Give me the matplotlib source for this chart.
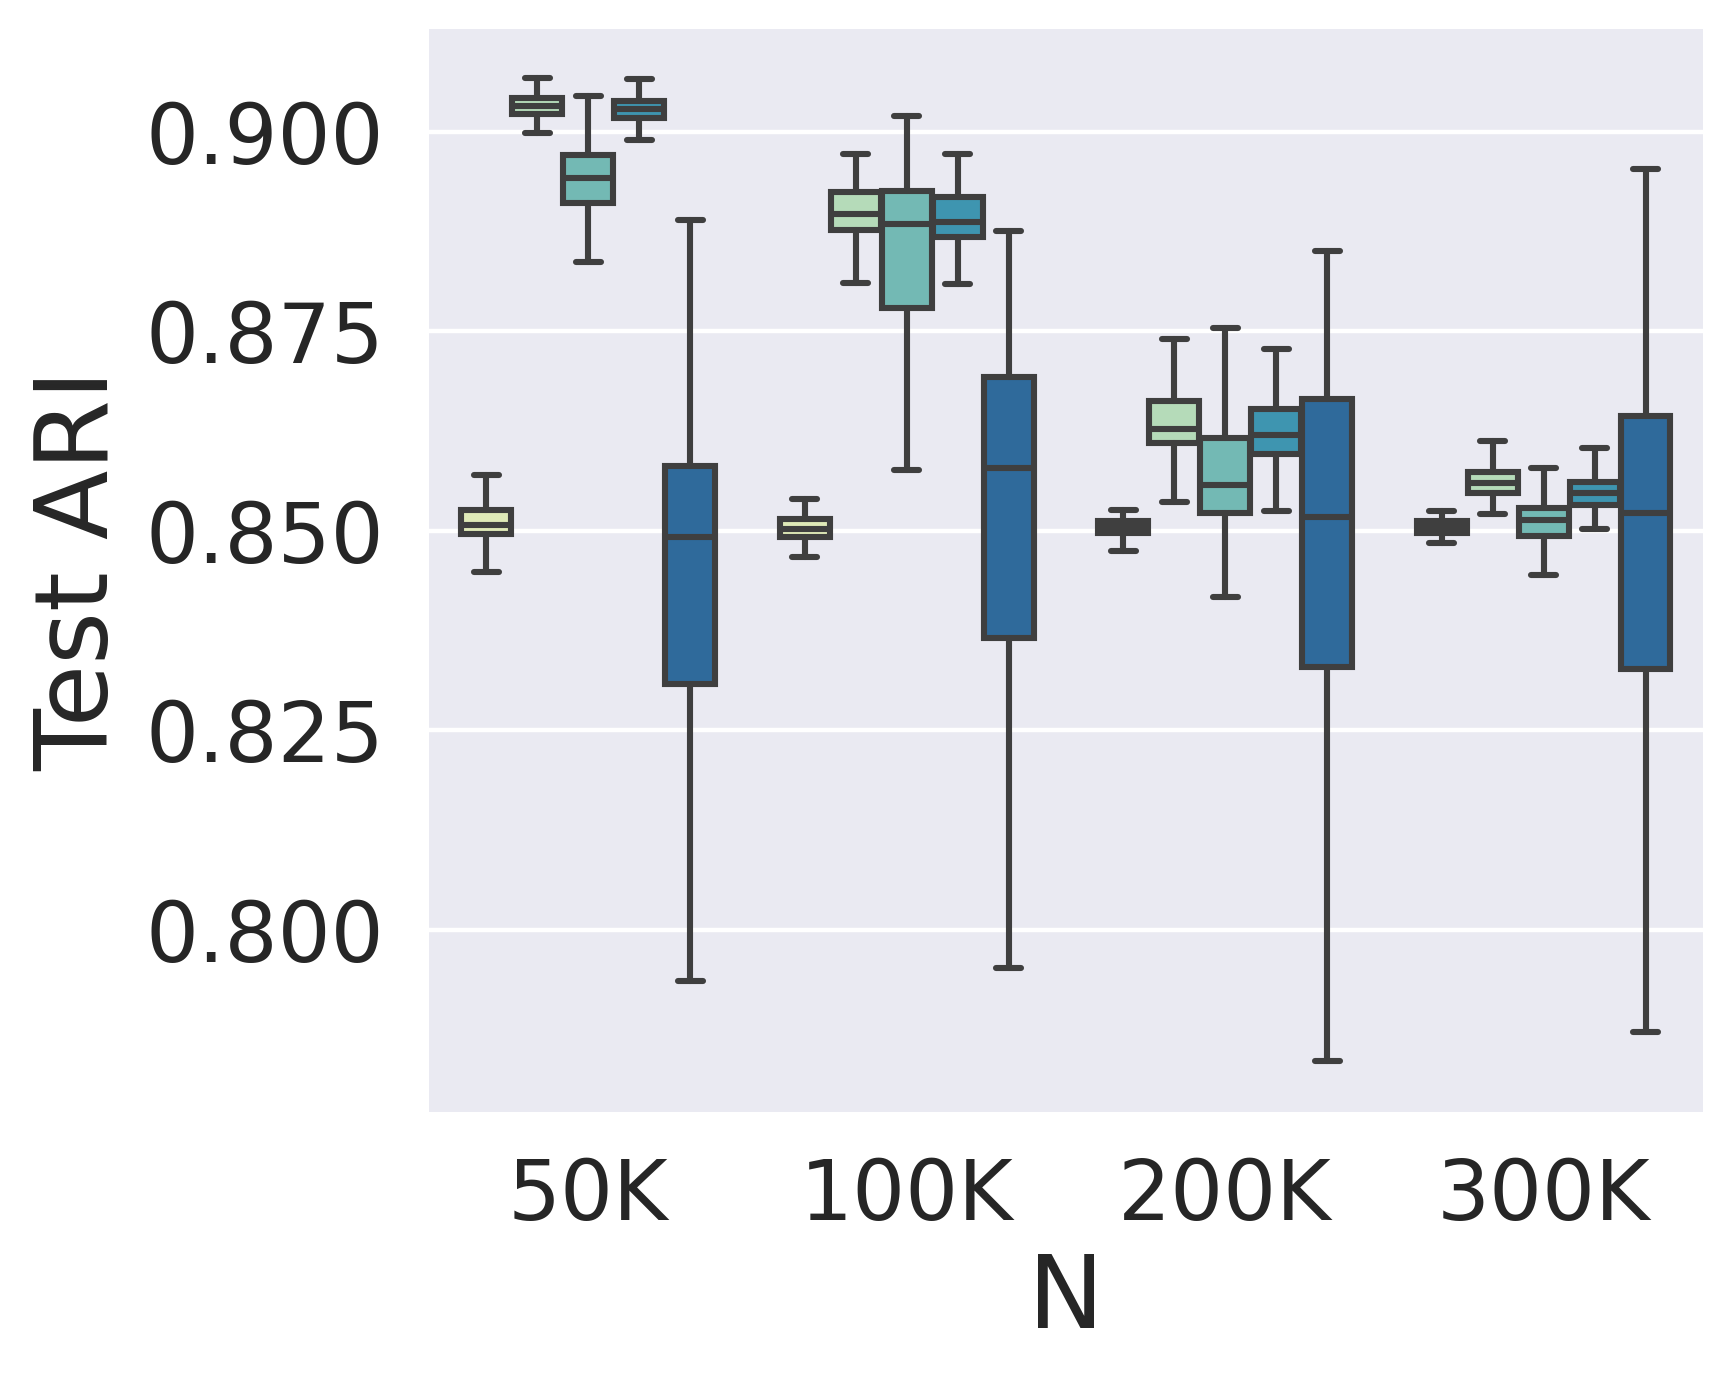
import numpy as np
import matplotlib
matplotlib.use('Agg')
import matplotlib.pyplot as plt
import seaborn as sns

sns.set_style('darkgrid')
plt.rcParams['font.family'] = ['DejaVu Sans']

# 数据：每个 N 下 5 组方法的箱线图五数概括
sizes = ['50K', '100K', '200K', '300K']
colors = ['#dfeab8', '#b5dbb9', '#73b9b4', '#3e95b0', '#2f6a9b']

whis_hi = [[0.8570, 0.8540, 0.8526, 0.8525],
           [0.9068, 0.8973, 0.8741, 0.8613],
           [0.9045, 0.9020, 0.8754, 0.8579],
           [0.9066, 0.8973, 0.8728, 0.8604],
           [0.8890, 0.8876, 0.8851, 0.8954]]
q3 = [[0.8526, 0.8515, 0.8512, 0.8512],
      [0.9043, 0.8925, 0.8663, 0.8574],
      [0.8971, 0.8926, 0.8617, 0.8529],
      [0.9039, 0.8919, 0.8653, 0.8562],
      [0.8581, 0.8693, 0.8665, 0.8644]]
med = [[0.8508, 0.8503, 0.8505, 0.8505],
       [0.9032, 0.8897, 0.8628, 0.8560],
       [0.8942, 0.8885, 0.8558, 0.8514],
       [0.9029, 0.8887, 0.8620, 0.8547],
       [0.8492, 0.8579, 0.8517, 0.8523]]
q1 = [[0.8496, 0.8492, 0.8498, 0.8497],
      [0.9022, 0.8877, 0.8610, 0.8547],
      [0.8911, 0.8779, 0.8522, 0.8494],
      [0.9017, 0.8869, 0.8596, 0.8533],
      [0.8308, 0.8366, 0.8330, 0.8327]]
whis_lo = [[0.8449, 0.8468, 0.8475, 0.8485],
           [0.8999, 0.8811, 0.8536, 0.8521],
           [0.8837, 0.8576, 0.8417, 0.8445],
           [0.8990, 0.8810, 0.8525, 0.8503],
           [0.7936, 0.7953, 0.7836, 0.7872]]

fig = plt.figure(figsize=(8.665, 6.91), dpi=200)
ax = fig.add_axes([0.2475, 0.1954, 0.7351, 0.7836])

n_hue = len(colors)
box_w = 0.8 / n_hue
line_c = '#3f3f3f'
lw = 2.2

for h in range(n_hue):
    stats = []
    for g in range(len(sizes)):
        stats.append(dict(med=med[h][g], q1=q1[h][g], q3=q3[h][g],
                          whislo=whis_lo[h][g], whishi=whis_hi[h][g], fliers=[]))
    pos = np.arange(len(sizes)) - 0.4 + box_w * (h + 0.5)
    ax.bxp(stats, positions=pos, widths=box_w * 0.98, patch_artist=True,
           showfliers=False, manage_ticks=False,
           boxprops=dict(facecolor=colors[h], edgecolor=line_c, linewidth=lw),
           medianprops=dict(color=line_c, linewidth=lw),
           whiskerprops=dict(color=line_c, linewidth=lw),
           capprops=dict(color=line_c, linewidth=lw, solid_capstyle='round'))

ax.set_xlim(-0.5, len(sizes) - 0.5)
ax.set_ylim(0.7772, 0.9129)
ax.set_xticks(range(len(sizes)))
ax.set_xticklabels(sizes)
yt = [0.800, 0.825, 0.850, 0.875, 0.900]
ax.set_yticks(yt)
ax.set_yticklabels([f'{v:.3f}' for v in yt])
ax.xaxis.grid(False)
ax.yaxis.grid(True, color='white', linewidth=1.6)
ax.tick_params(axis='both', labelsize=30, length=0, pad=16, colors='#262626')
ax.set_xlabel('N', fontsize=36.5, color='#262626', labelpad=5)
ax.set_ylabel('Test ARI', fontsize=36.5, color='#262626', labelpad=6)
for s in ax.spines.values():
    s.set_visible(False)

fig.savefig('out.png', dpi=200)
